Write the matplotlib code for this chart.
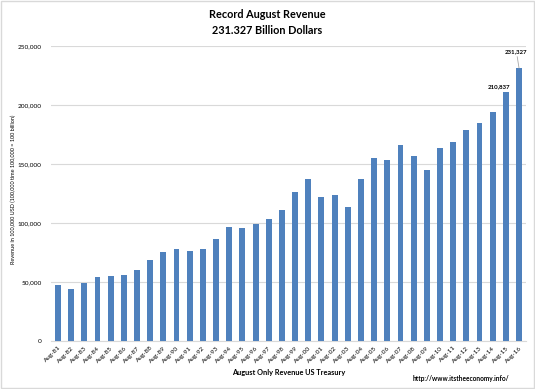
import matplotlib
matplotlib.use("Agg")
import matplotlib.pyplot as plt
from matplotlib.ticker import FuncFormatter
from matplotlib.patches import Rectangle

plt.rcParams['font.family'] = ['Lato', 'DejaVu Sans']

categories = ["Aug-81", "Aug-82", "Aug-83", "Aug-84", "Aug-85", "Aug-86", "Aug-87", "Aug-88",
              "Aug-89", "Aug-90", "Aug-91", "Aug-92", "Aug-93", "Aug-94", "Aug-95", "Aug-96",
              "Aug-97", "Aug-98", "Aug-99", "Aug-00", "Aug-01", "Aug-02", "Aug-03", "Aug-04",
              "Aug-05", "Aug-06", "Aug-07", "Aug-08", "Aug-09", "Aug-10", "Aug-11", "Aug-12",
              "Aug-13", "Aug-14", "Aug-15", "Aug-16"]
revenue = [47200, 44300, 49400, 54500, 55300, 56200, 59900, 68900,
           75700, 78000, 76000, 77700, 86400, 96900, 96000, 99400,
           103100, 111300, 126000, 137600, 122000, 124000, 113800, 137000,
           154800, 153100, 166100, 156500, 144900, 163600, 168900, 178800,
           185000, 194100, 210837, 231327]
yticks = [0, 50000, 100000, 150000, 200000, 250000]
labeled = {"Aug-15": "210,837", "Aug-16": "231,327"}

fig = plt.figure(figsize=(5.35, 3.89), dpi=100)
ax = fig.add_axes([51.4/535, 1 - 341/389, (525.6 - 51.4)/535, (341 - 46)/389])

x = list(range(len(categories)))
ax.bar(x, revenue, width=0.45, color='#4f81bd', zorder=3)
ax.set_xlim(-0.5, len(categories) - 0.5)
ax.set_ylim(0, 250000)
ax.set_yticks(yticks)
ax.yaxis.set_major_formatter(FuncFormatter(lambda v, p: f"{int(v):,}"))
ax.set_xticks(x)
ax.set_xticklabels(categories, rotation=45, ha='right', rotation_mode='anchor', fontsize=4.6)
ax.tick_params(axis='y', labelsize=4.6, length=0, pad=7)
ax.tick_params(axis='x', length=0, pad=3)
ax.grid(axis='y', color='#d9d9d9', linewidth=0.8, zorder=0)
for s in ['top', 'right', 'left']:
    ax.spines[s].set_visible(False)
ax.spines['bottom'].set_color('#d9d9d9')

fig.text(13/535, 1 - 189/389, "Revenue in 100,000 USD (100,000 time 100,000 = 100 billion)",
         rotation=90, ha='center', va='center', fontsize=4.0)
fig.text(288.5/535, 1 - 373/389, "August Only Revenue US Treasury", ha='center', va='center',
         fontsize=5.3, fontweight='bold')

for i, c in enumerate(categories):
    if c in labeled:
        v = revenue[i]
        if c == "Aug-16":
            ax.annotate(labeled[c], xy=(i, v), xytext=(i - 0.2, v + 12000), ha='center', va='bottom',
                        fontsize=4.4, fontweight='bold',
                        arrowprops=dict(arrowstyle='-', color='#a6a6a6', lw=0.6, shrinkA=0, shrinkB=0))
        else:
            ax.text(i - 0.5, v + 3000, labeled[c], ha='center', va='bottom', fontsize=4.4, fontweight='bold')

fig.text(0.5, 1 - 15/389, "Record August Revenue", ha='center', va='center', fontsize=7.8, fontweight='bold')
fig.text(0.5, 1 - 31/389, "231.327 Billion Dollars", ha='center', va='center', fontsize=7.8, fontweight='bold')
fig.text(461/535, 1 - 379/389, "http://www.itstheeconomy.info/", ha='center', va='center',
         fontsize=4.7, fontweight='bold')

fig.patches.append(Rectangle((0.002, 0.002), 0.996, 0.996, transform=fig.transFigure,
                             fill=False, edgecolor='#d9d9d9', linewidth=1))

fig.savefig("out.png", dpi=100)
